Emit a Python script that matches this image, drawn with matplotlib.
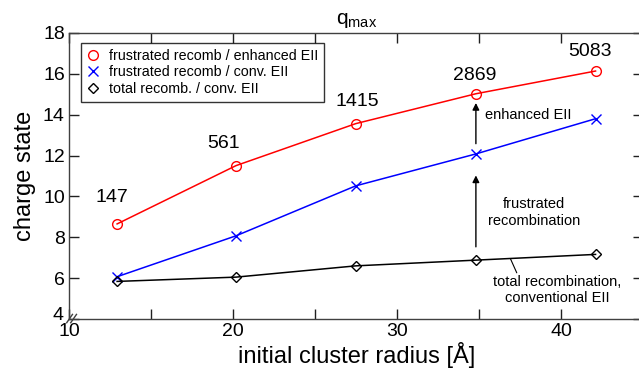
import numpy as np
import matplotlib
matplotlib.use("Agg")
import matplotlib.pyplot as plt
from matplotlib.ticker import MultipleLocator, FuncFormatter

FONTSIZE = 14

plt.rcParams.update({
    "font.family": "sans-serif",
    "font.sans-serif": ["Liberation Sans", "DejaVu Sans"],
    "font.size": FONTSIZE,
    "axes.linewidth": 1.0,
    "axes.edgecolor": "#404040",
    "xtick.color": "#202020",
    "ytick.color": "#202020",
    "xtick.labelcolor": "black",
    "ytick.labelcolor": "black",
    "mathtext.fontset": "custom",
    "mathtext.rm": "Liberation Sans",
    "mathtext.it": "Liberation Sans",
})

# data
radius = [12.93, 20.18, 27.47, 34.79, 42.08]
cluster_size = ["147", "561", "1415", "2869", "5083"]
q_frustrated_enhanced = [8.66, 11.51, 13.56, 15.02, 16.13]
q_frustrated_conv = [6.08, 8.08, 10.52, 12.08, 13.80]
q_total_conv = [5.85, 6.06, 6.61, 6.89, 7.17]

# label offsets (points) above the red markers
label_offsets = [(-4, 19), (-9, 16), (1, 16), (-1, 13), (-4, 14)]

fig = plt.figure(figsize=(6.39, 3.81), dpi=100)
ax = fig.add_axes([0.108, 0.162, 0.899, 0.752])

ax.plot(radius, q_frustrated_enhanced, '-o', color='red', lw=1.1, ms=7,
        mfc='none', mew=1.0, label='frustrated recomb / enhanced EII')
ax.plot(radius, q_frustrated_conv, '-x', color='blue', lw=1.1, ms=7,
        mew=1.0, label='frustrated recomb / conv. EII')
ax.plot(radius, q_total_conv, '-D', color='black', lw=1.1, ms=5,
        mfc='none', mew=1.0, label='total recomb. / conv. EII')

for x, y, s, off in zip(radius, q_frustrated_enhanced, cluster_size, label_offsets):
    ax.annotate(s, (x, y), xytext=off, textcoords='offset points',
                ha='center', va='center', fontsize=14)

# arrows between the curves at the 4th cluster
i = 3
ax.annotate('', xy=(radius[i], q_frustrated_enhanced[i] - 0.45),
            xytext=(radius[i], q_frustrated_conv[i] + 0.5),
            arrowprops=dict(arrowstyle='-|>', color='black', lw=1.0,
                            mutation_scale=10, shrinkA=0, shrinkB=0))
ax.annotate('', xy=(radius[i], q_frustrated_conv[i] - 1.05),
            xytext=(radius[i], q_total_conv[i] + 0.65),
            arrowprops=dict(arrowstyle='-|>', color='black', lw=1.0,
                            mutation_scale=10, shrinkA=0, shrinkB=0))
ax.text(38.0, 14.0, 'enhanced EII', ha='center', va='center', fontsize=10.5)
ax.text(38.35, 9.23, 'frustrated\nrecombination', ha='center', va='center',
        fontsize=10.5, linespacing=1.25)
ax.text(39.75, 5.43, 'total recombination,\nconventional EII', ha='center',
        va='center', fontsize=10.5, linespacing=1.2)
ax.annotate('', xy=(36.9, 6.95), xytext=(37.28, 6.27),
            arrowprops=dict(arrowstyle='-', color='black', lw=0.8,
                            shrinkA=0, shrinkB=0))

ax.set_xlim(10, 45)
ax.set_ylim(4, 18)
ax.xaxis.set_major_locator(MultipleLocator(5))
ax.xaxis.set_major_formatter(FuncFormatter(lambda v, p: f'{v:.0f}' if v % 10 == 0 else ''))
ax.yaxis.set_major_locator(MultipleLocator(2))
ax.yaxis.set_major_formatter(FuncFormatter(lambda v, p: '' if v == 4 else f'{v:.0f}'))
ax.tick_params(direction='in', length=7, width=1.0, top=True, right=True,
               labelsize=FONTSIZE, pad=3)
ax.set_xlabel('initial cluster radius [Å]', fontsize=17, labelpad=1)
ax.set_ylabel('charge state', fontsize=17, labelpad=5)
ax.set_title(r'q$_{\mathrm{max}}$', fontsize=15, pad=6)

# the "4" label and the axis break marks at the corner
ax.text(-0.01, 0.012, '4', transform=ax.transAxes, ha='right', va='center',
        fontsize=FONTSIZE)
for dx in (0.0, 0.007):
    ax.plot([-0.004 + dx, 0.006 + dx], [-0.012, 0.017], transform=ax.transAxes,
            color='#404040', lw=1.0, clip_on=False)

leg = ax.legend(loc='upper left', bbox_to_anchor=(0.02, 0.965), fontsize=10.3,
                frameon=True, fancybox=False, edgecolor='black',
                handlelength=1.0, handletextpad=0.6, borderpad=0.4,
                labelspacing=0.2, numpoints=1, borderaxespad=0)
leg.get_frame().set_linewidth(1.0)
for h in leg.legend_handles:
    h.set_linestyle('none')

fig.savefig('out.png', dpi=100)
